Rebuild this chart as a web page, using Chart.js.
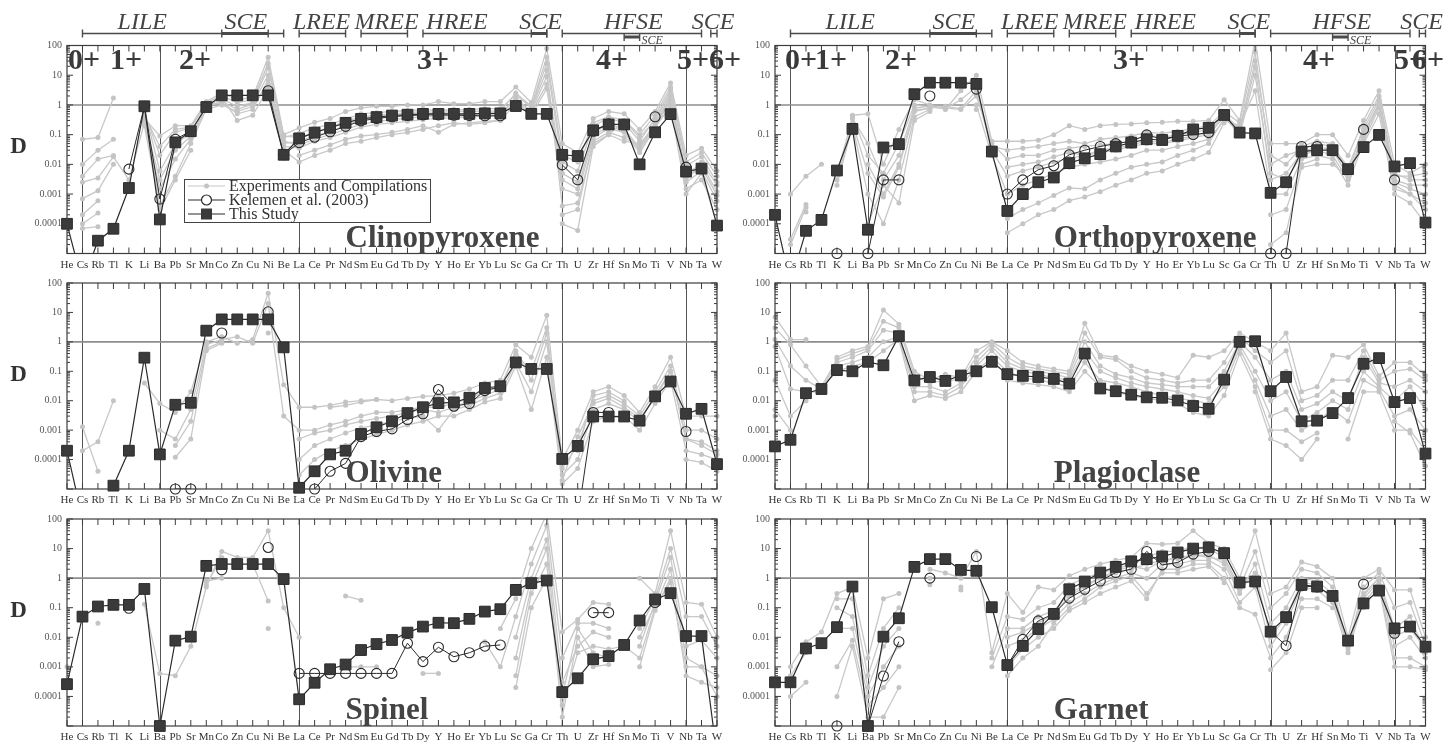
<!DOCTYPE html>
<html>
<head>
<meta charset="utf-8">
<title>Mineral/melt partition coefficients</title>
<script src="https://cdn.jsdelivr.net/npm/chart.js@4.4.1/dist/chart.umd.min.js"></script>
<style>
  html, body { margin: 0; padding: 0; background: #fff; }
  #sheet { position: relative; width: 1449px; height: 748px; overflow: hidden; }
  #sheet canvas { position: absolute; }
</style>
</head>
<body>
<div id="sheet"></div>
<script>
const _ = null;
const SERIF = "'Liberation Serif', 'Times New Roman', serif";

const elements = ['He','Cs','Rb','Tl','K','Li','Ba','Pb','Sr','Mn','Co','Zn','Cu','Ni','Be',
  'La','Ce','Pr','Nd','Sm','Eu','Gd','Tb','Dy','Y','Ho','Er','Yb','Lu',
  'Sc','Ga','Cr','Th','U','Zr','Hf','Sn','Mo','Ti','V','Nb','Ta','W'];
const yTickValues = [100, 10, 1, 0.1, 0.01, 0.001, 0.0001, 0.00001];
const yTickLabels = ['100', '10', '1', '0.1', '0.01', '0.001', '0.0001', ''];
const dividers = ['Cs', 'Ba', 'La', 'Th', 'Nb'];

// ---- Clinopyroxene ----
const cpxStudy = [
  1e-4, 1e-6, 2.7e-5, 6.8e-5, 0.0016, 0.9, 1.4e-4, 0.055, 0.13, 0.85, 2.1, 2.1, 2.1, 2.1, 0.021,
  0.075, 0.117, 0.17, 0.25, 0.34, 0.39, 0.44, 0.47, 0.5, 0.5, 0.5, 0.5, 0.52, 0.52,
  0.92, 0.5, 0.5, 0.021, 0.019, 0.14, 0.22, 0.22, 0.01, 0.12, 0.49, 0.0057, 0.0072, 8.7e-5];
const cpxKelemen = [
  _, _, _, _, 0.0069, 0.9, 6.8e-4, 0.07, 0.13, _, _, _, _, 3.0, 0.021,
  0.054, 0.082, 0.125, 0.19, 0.29, 0.35, 0.4, 0.44, 0.46, 0.46, 0.45, 0.44, 0.43, 0.43,
  _, _, _, 0.0096, 0.003, 0.13, 0.23, _, _, 0.4, _, 0.0081, _, _];
const cpxExp = [
  [_, 0.07, 0.08, 1.7, _, 0.35, 0.09, 0.2, 0.2, 1.3, 2.5, 1.5, 1.8, 40, 0.1,
   0.17, 0.26, 0.35, 0.6, 0.8, 0.9, 0.9, 1, 1, 1.3, 1.1, 1.1, 1.3, 1.3,
   4, 1.2, 80, 0.05, 0.025, 0.35, 0.6, 0.5, 0.15, 0.6, 5.5, 0.02, 0.035, 0.006],
  [_, 0.01, 0.03, 0.07, _, 0.55, 0.02, 0.12, 0.17, 1.1, 1.6, 0.9, 1.2, 18, 0.08,
   0.11, 0.17, 0.22, 0.33, 0.5, 0.55, 0.6, 0.65, 0.7, 0.65, 0.7, 0.7, 0.75, 0.75,
   2.2, 0.8, 25, 0.012, 0.006, 0.2, 0.35, 0.25, 0.06, 0.35, 3.2, 0.009, 0.018, 0.0025],
  [_, 0.004, 0.015, 0.02, _, 0.7, 0.006, 0.05, 0.11, 0.95, 1.2, 0.5, 0.7, 7, 0.05,
   0.06, 0.09, 0.13, 0.2, 0.32, 0.37, 0.42, 0.46, 0.48, 0.5, 0.48, 0.48, 0.5, 0.5,
   1.6, 0.6, 9, 0.005, 0.0025, 0.12, 0.22, 0.16, 0.035, 0.22, 2.2, 0.005, 0.01, 0.0012],
  [_, 0.0025, 0.0035, 0.018, 0.003, 0.25, 0.0015, 0.015, 0.07, 0.8, 1.8, 0.3, 0.45, 3.5, 0.04,
   0.035, 0.06, 0.08, 0.12, 0.18, 0.22, 0.25, 0.28, 0.32, 0.36, 0.36, 0.4, 0.42, 0.42,
   1.3, 0.45, 3.5, 0.0015, 0.001, 0.08, 0.16, 0.12, 0.025, 0.16, 1.6, 0.0025, 0.006, 6e-4],
  [_, 7e-4, 0.0013, 0.01, _, 0.2, 4e-4, 0.004, 0.05, 0.7, 1, 0.6, 0.9, 5, 0.03,
   0.012, 0.02, 0.03, 0.05, 0.06, 0.08, 0.1, 0.12, 0.15, 0.2, 0.25, 0.22, 0.25, 0.3,
   1.1, 0.7, 15, 4e-4, 5e-4, 0.05, 0.1, 0.3, 0.08, 0.3, 2.5, 0.0015, 0.003, 3e-4],
  [_, 2e-4, 6e-4, _, _, 0.9, 3e-4, 0.003, 0.03, _, _, _, _, _, _,
   0.02, 0.03, 0.045, 0.07, 0.09, 0.1, 0.12, 0.15, 0.2, 0.12, 0.22, 0.25, 0.28, 0.3,
   _, _, _, 2e-4, 3e-4, 0.06, 0.12, 0.08, 0.04, 0.25, 1.2, 0.003, 0.012, 0.002],
  [_, 1e-4, 2.3e-4, _, _, _, _, _, _, _, _, _, _, _, _,
   _, _, _, _, _, _, _, _, _, _, _, _, _, _,
   _, _, _, 1e-4, 6e-5, 0.04, 0.1, 0.06, 0.05, 0.18, 0.9, 0.001, 0.005, 1e-4],
  [_, 7e-5, 8e-5, _, _, _, _, _, _, _, _, _, _, _, _,
   _, _, _, _, _, _, _, _, _, _, _, _, _, _,
   _, _, _, _, _, _, _, _, _, _, _, _, _, _],
  [_, _, _, _, _, 0.45, 0.04, 0.15, 0.18, 1.2, 2, 1.2, 1.5, 25, 0.09,
   0.08, 0.12, 0.18, 0.28, 0.4, 0.45, 0.5, 0.55, 0.6, 0.55, 0.6, 0.6, 0.62, 0.62,
   2.5, 0.9, 40, 0.02, 0.012, 0.25, 0.4, 0.3, 0.1, 0.45, 4, 0.012, 0.025, 0.004],
  [_, _, _, _, _, 0.3, 0.003, 0.03, 0.09, 0.9, 1.3, 0.7, 1.1, 10, 0.06,
   0.045, 0.07, 0.1, 0.15, 0.22, 0.28, 0.32, 0.36, 0.4, 0.42, 0.42, 0.44, 0.46, 0.46,
   1.8, 0.55, 5, 0.003, 0.0015, 0.1, 0.18, 0.14, 0.03, 0.19, 1.9, 0.0035, 0.008, 9e-4]
];

// ---- Orthopyroxene ----
const opxStudy = [
  2e-4, 1e-6, 5.8e-5, 1.35e-4, 0.0062, 0.156, 6.3e-5, 0.037, 0.048, 2.3, 5.6, 5.6, 5.6, 5.1, 0.027,
  2.7e-4, 0.001, 0.0025, 0.0036, 0.011, 0.016, 0.022, 0.04, 0.054, 0.07, 0.066, 0.091, 0.15, 0.17,
  0.46, 0.117, 0.11, 0.0011, 0.0025, 0.027, 0.03, 0.03, 0.0069, 0.038, 0.098, 0.0085, 0.011, 1.1e-4];
const opxKelemen = [
  _, _, _, _, 1e-5, _, 1e-5, 0.003, 0.003, _, 2.0, _, _, 3.4, _,
  0.001, 0.003, 0.0066, 0.009, 0.021, 0.03, 0.04, 0.05, 0.06, 0.098, 0.07, 0.09, 0.1, 0.117,
  _, _, _, 1e-5, 1e-5, 0.04, 0.04, _, _, 0.15, _, 0.003, _, _];
const opxExp = [
  [_, 0.001, 0.004, 0.01, _, 0.45, 0.5, 0.01, 0.15, 1.5, 1, 0.7, 3, 10, 0.06,
   0.06, 0.06, 0.065, 0.1, 0.2, 0.15, 0.2, 0.22, 0.23, 0.25, 0.26, 0.28, 0.28, 0.3,
   1.5, 0.3, 150, 0.05, 0.05, 0.05, 0.1, 0.1, 0.02, 0.3, 3, 0.01, 0.005, 0.01],
  [_, 3e-5, 4.5e-4, _, 0.005, 0.35, 0.05, 0.003, 0.02, 0.8, 0.9, 0.8, 0.7, 2, 0.05,
   0.015, 0.02, 0.02, 0.03, 0.035, 0.04, 0.045, 0.05, 0.06, 0.1, 0.08, 0.1, 0.12, 0.15,
   0.5, 0.15, 30, 0.02, 0.01, 0.04, 0.06, 0.05, 0.005, 0.2, 2, 0.005, 0.003, 0.003],
  [_, 2e-5, 3.5e-4, _, 0.003, 0.25, 0.005, 8e-4, 0.008, 0.6, 0.8, 0.9, 0.75, 3, 0.03,
   0.004, 0.006, 0.008, 0.012, 0.016, 0.02, 0.025, 0.03, 0.04, 0.05, 0.05, 0.06, 0.08, 0.1,
   0.4, 0.1, 10, 0.005, 0.003, 0.02, 0.03, 0.02, 0.003, 0.1, 1.2, 0.003, 0.002, 0.002],
  [_, _, 2.5e-4, _, 0.002, 0.2, 0.001, 1e-4, 0.003, 0.4, 0.7, _, _, 1, 0.02,
   0.001, 0.002, 0.003, 0.005, 0.008, 0.01, 0.012, 0.015, 0.02, 0.03, 0.03, 0.04, 0.05, 0.07,
   0.3, 0.2, 3, 0.001, 0.001, 0.015, 0.02, 0.015, 0.002, 0.06, 0.8, 0.002, 0.001, 5e-4],
  [_, _, _, _, _, _, 1e-4, 0.002, 5e-4, 0.3, 0.6, _, _, 0.7, _,
   1.5e-4, 3e-4, 5e-4, 9e-4, 0.0016, 0.0015, 0.003, 0.005, 0.008, 0.01, 0.012, 0.02, 0.03, 0.05,
   0.35, _, _, 2e-4, 3e-4, 0.01, 0.015, _, _, 0.05, 0.5, 0.001, 5e-4, 1e-4],
  [_, _, _, _, _, _, _, _, _, _, _, _, _, _, _,
   5e-5, 1e-4, 2e-4, 3e-4, 6e-4, 8e-4, 0.0012, 0.002, 0.003, 0.005, 0.006, 0.01, 0.015, 0.025,
   0.25, _, _, 2e-5, 5e-5, 0.008, 0.01, 0.01, 0.004, 0.08, 1, 0.0015, 0.001, 3e-4],
  [_, _, _, _, _, 0.4, 0.02, 0.005, 0.05, 1, 0.85, 0.75, 1.5, 4, 0.04,
   0.03, 0.035, 0.04, 0.05, 0.06, 0.05, 0.07, 0.08, 0.09, 0.12, 0.11, 0.13, 0.16, 0.2,
   0.6, 0.25, 60, 0.01, 0.02, 0.03, 0.05, 0.04, 0.008, 0.15, 1.5, 0.004, 0.004, 0.005],
  [_, _, _, _, _, _, 0.01, 0.001, 0.01, 0.7, 0.75, _, _, _, _,
   0.008, 0.01, 0.012, 0.018, 0.025, 0.02, 0.03, 0.035, 0.045, 0.06, 0.055, 0.07, 0.09, 0.12,
   0.45, 0.12, 20, 0.003, 0.005, 0.025, 0.04, 0.03, 0.004, 0.12, 1, 0.0025, 0.0015, 0.001]
];

// ---- Olivine ----
const olStudy = [
  2e-4, 1e-6, 1e-6, 1.3e-5, 2e-4, 0.29, 1.5e-4, 0.0073, 0.0085, 2.4, 5.8, 5.8, 5.8, 5.8, 0.65,
  1.1e-5, 4e-5, 1.5e-4, 2e-4, 7.4e-4, 0.00125, 0.002, 0.0038, 0.006, 0.0083, 0.0088, 0.0126, 0.027, 0.031,
  0.2, 0.12, 0.12, 1.05e-4, 2.9e-4, 0.0029, 0.0029, 0.0029, 0.0021, 0.014, 0.045, 0.0036, 0.0053, 7e-5];
const olKelemen = [
  _, _, _, _, _, _, _, 1e-5, 1e-5, _, 2.0, _, _, 10.5, _,
  _, 1e-5, 4e-5, 7.4e-5, 6e-4, 9e-4, 0.0011, 0.0023, 0.0036, 0.024, 0.0065, 0.008, 0.022, 0.03,
  _, _, _, _, 1e-6, 0.004, 0.004, _, _, _, _, 9e-4, _, _];
const olExp = [
  [_, 0.0013, 4e-5, _, _, 0.04, 0.008, 0.004, 0.02, 1, 1.5, 0.9, 1.2, 45, 0.035,
   0.006, 0.006, 0.007, 0.009, 0.01, 0.011, 0.01, 0.012, 0.014, 0.015, 0.018, 0.025, 0.04, 0.05,
   0.8, 0.3, 8, 1e-4, 0.001, 0.02, 0.03, 0.015, 0.004, 0.03, 0.3, 0.003, 0.003, 0.003],
  [_, 2e-4, 4e-4, 0.01, _, _, 0.001, 5e-4, 0.005, 0.8, 1.2, 1.5, 0.9, 20, 0.003,
   0.001, 0.001, 0.0015, 0.002, 0.003, 0.004, 0.004, 0.005, 0.006, 0.006, 0.008, 0.012, 0.02, 0.03,
   0.4, 0.1, 3, 5e-5, 3e-4, 0.01, 0.015, 0.008, 0.003, 0.02, 0.15, 0.001, 0.001, 5e-4],
  [_, _, _, _, _, _, _, 3e-4, 0.002, 0.6, 1, _, _, 5, _,
   1e-4, 3e-4, 5e-4, 8e-4, 0.0012, 0.0015, 0.002, 0.0025, 0.003, 0.001, 0.005, 0.007, 0.012, 0.018,
   0.2, 0.02, 1, 3e-5, 1e-4, 0.005, 0.008, 0.005, 0.002, 0.015, 0.1, 5e-4, 4e-4, 2e-4],
  [_, _, _, _, _, _, _, 1.2e-4, 5e-4, 0.5, 0.9, _, _, 2, _,
   3e-5, 1e-4, 2e-4, 3e-4, 5e-4, 7e-4, 0.001, 0.0015, 0.002, 0.003, 0.003, 0.005, 0.009, 0.012,
   0.15, 0.005, 0.3, 1.5e-5, 5e-5, 0.002, 0.003, 0.003, 0.001, 0.008, 0.05, 2e-4, 1.5e-4, 1e-4],
  [_, _, _, _, _, _, _, _, _, _, _, _, _, _, _,
   _, _, 0.006, 0.007, 0.009, 0.011, _, _, _, _, _, _, _, _,
   _, _, _, _, 2e-4, 0.015, 0.02, 0.01, _, _, _, 1e-4, 8e-5, 4e-5],
  [_, _, _, _, _, _, _, _, _, _, _, _, _, _, _,
   5e-4, 8e-4, 0.001, 0.0015, 0.002, 0.0025, 0.003, 0.004, 0.005, 0.004, 0.006, 0.01, 0.015, 0.025,
   0.5, 0.05, 2, 2e-5, 6e-4, 0.008, 0.012, 0.006, 0.0025, 0.012, 0.1, 5e-4, 3e-4, 1.5e-4]
];

// ---- Plagioclase ----
const plStudy = [
  2.8e-4, 4.7e-4, 0.018, 0.025, 0.11, 0.1, 0.21, 0.16, 1.56, 0.049, 0.064, 0.047, 0.072, 0.1, 0.21,
  0.08, 0.07, 0.064, 0.055, 0.038, 0.4, 0.026, 0.021, 0.016, 0.013, 0.0126, 0.0102, 0.0066, 0.0053,
  0.052, 1.0, 1.05, 0.021, 0.064, 0.002, 0.0021, 0.0038, 0.0123, 0.18, 0.28, 0.009, 0.0123, 1.6e-4];
const plExp = [
  [7, 1.2, 1.2, _, 0.3, 0.5, 0.7, 12, 4, 0.1, 0.05, 0.08, 0.06, 0.5, 1,
   0.5, 0.2, 0.15, 0.12, 0.1, 4.3, 0.35, 0.3, 0.15, 0.1, 0.08, 0.06, 0.35, 0.3,
   0.5, 2, 1, 0.5, 2, 0.02, 0.03, 0.35, 0.3, 0.8, 0.07, 0.2, 0.2, 0.07],
  [3, 0.8, 0.15, 0.03, 0.25, 0.4, 0.6, 5, 3, 0.07, 0.04, 0.05, 0.05, 0.3, 0.9,
   0.3, 0.15, 0.12, 0.1, 0.08, 2, 0.3, 0.25, 0.1, 0.06, 0.05, 0.04, 0.05, 0.05,
   0.2, 1.5, 0.5, 0.2, 0.5, 0.01, 0.015, 0.05, 0.05, 0.5, 0.05, 0.1, 0.12, 0.05],
  [1.2, 0.15, 0.05, 0.025, 0.2, 0.3, 0.5, 2.5, 2, 0.03, 0.03, 0.02, 0.04, 0.2, 0.7,
   0.2, 0.12, 0.1, 0.08, 0.06, 1, 0.15, 0.08, 0.06, 0.04, 0.035, 0.03, 0.03, 0.03,
   0.1, 1, 0.3, 0.05, 0.1, 0.005, 0.008, 0.02, 0.01, 0.3, 0.04, 0.03, 0.05, 0.02],
  [0.7, 0.025, 0.02, 0.02, 0.15, 0.2, 0.3, 1, 1.5, 0.02, 0.02, 0.015, 0.03, 0.15, 0.5,
   0.15, 0.1, 0.08, 0.06, 0.05, 0.5, 0.1, 0.06, 0.04, 0.03, 0.025, 0.02, 0.015, 0.012,
   0.05, 0.8, 0.1, 0.01, 0.02, 0.002, 0.004, 0.01, 0.005, 0.1, 0.03, 0.01, 0.03, 0.005],
  [0.05, 0.003, 0.01, _, 0.1, 0.15, 0.2, 0.5, 1.2, 0.01, 0.015, 0.012, 0.02, 0.1, 0.3,
   0.1, 0.06, 0.05, 0.04, 0.03, 0.2, 0.05, 0.04, 0.03, 0.02, 0.015, 0.012, 0.01, 0.008,
   0.03, 0.6, 0.05, 0.003, 0.005, 0.001, 0.002, 0.005, 0.002, 0.05, 0.025, 0.003, 0.005, 0.001],
  [0.005, 0.001, _, _, _, _, _, _, _, _, _, _, _, _, _,
   0.05, 0.04, 0.035, 0.03, 0.02, 0.1, 0.03, 0.02, 0.015, 0.012, 0.01, 0.008, 0.004, 0.003,
   0.015, 0.4, 0.03, 0.001, 0.001, 4e-4, 8e-4, _, 5e-4, 0.02, 0.02, 0.001, 0.001, 2e-4],
  [0.003, _, _, _, _, _, _, _, _, _, _, _, _, _, _,
   _, _, _, _, _, _, _, _, _, _, _, _, _, _,
   _, _, 0.02, 5e-4, 3e-4, 1e-4, 5e-4, _, _, _, _, 0.002, 8e-4, 6e-5]
];

// ---- Spinel ----
const spStudy = [
  2.6e-4, 0.05, 0.11, 0.125, 0.125, 0.43, 1e-5, 0.0077, 0.0105, 2.6, 3.0, 3.0, 3.0, 3.0, 0.93,
  8e-5, 2.9e-4, 8.3e-4, 0.0012, 0.0037, 0.0059, 0.0081, 0.0144, 0.023, 0.031, 0.03, 0.042, 0.074, 0.089,
  0.4, 0.68, 0.83, 1.4e-4, 4.1e-4, 0.0018, 0.0023, 0.0055, 0.037, 0.19, 0.31, 0.011, 0.011, 1e-6];
const spKelemen = [
  _, _, _, _, 0.096, _, _, _, _, _, 1.9, _, _, 10.9, _,
  6e-4, 6e-4, 6e-4, 6e-4, 6e-4, 6e-4, 6e-4, 0.0063, 0.0015, 0.0046, 0.0022, 0.003, 0.005, 0.0055,
  _, _, _, _, _, 0.068, 0.068, _, _, 0.15, _, _, _, _];
const spExp = [
  [0.001, _, 0.03, _, _, 0.13, 6e-4, 5e-4, 0.005, 0.5, 8, 5, 5, 40, 0.1,
   0.01, _, _, 0.25, 0.18, _, _, _, _, _, _, _, _, 0.02,
   0.2, 10, 150, 0.015, 0.04, 0.15, 0.13, _, 1, 0.3, 40, 0.15, 0.13, 0.01],
  [_, _, _, _, _, _, _, _, _, 0.6, 5, _, 3, 0.17, _,
   _, _, _, 0.001, 0.001, 0.001, _, _, 6e-4, 6e-4, _, _, 0.007, 0.001,
   0.05, 3, 60, 0.002, 0.03, 0.03, 0.02, _, 0.02, 0.2, 10, 0.05, 0.05, 0.005],
  [_, _, _, _, _, _, _, _, _, 0.8, 1, _, _, 0.02, _,
   _, _, _, _, _, _, _, _, _, _, _, _, _, _,
   0.01, 1, 20, 3e-4, 0.005, 0.015, 0.01, _, 0.005, 0.15, 5, 0.005, 0.008, 0.002],
  [_, _, _, _, _, _, _, _, _, _, _, _, _, _, _,
   _, _, _, _, _, _, _, _, _, _, _, _, _, _,
   0.002, 0.5, 10, 5e-5, 0.003, 0.005, 0.004, 0.005, 0.002, 0.1, 2, 0.002, 0.001, 5e-4],
  [_, _, _, _, _, _, _, _, _, _, _, _, _, _, _,
   _, _, _, _, _, _, _, _, _, _, _, _, _, _,
   5e-4, 0.3, 3, 2e-5, 0.01, 0.001, 0.0012, _, 0.001, 0.08, 1, 5e-4, 3e-4, 2e-4],
  [_, _, _, _, _, _, _, _, _, _, _, _, _, _, _,
   _, _, _, _, _, _, _, _, _, _, _, _, _, _,
   2e-4, 0.1, 1, 1e-4, 0.02, 0.003, 0.002, _, 0.01, 0.12, 0.7, 0.001, 0.001, 1e-4]
];

// ---- Garnet ----
const gtStudy = [
  3e-4, 3e-4, 0.0042, 0.0063, 0.022, 0.52, 1e-5, 0.0105, 0.044, 2.4, 4.4, 4.4, 1.9, 1.77, 0.104,
  0.00115, 0.0051, 0.019, 0.062, 0.42, 0.77, 1.55, 2.4, 3.7, 4.4, 5.4, 7.4, 10, 11,
  7, 0.71, 0.77, 0.0155, 0.048, 0.59, 0.52, 0.25, 0.0077, 0.14, 0.38, 0.02, 0.023, 0.0048];
const gtKelemen = [
  _, _, _, _, 1e-5, _, 1e-5, 4.9e-4, 0.0071, _, 1.0, _, _, 5.4, _,
  0.0011, 0.0085, 0.036, 0.062, 0.21, 0.42, 0.8, 1.55, 2.0, 8.0, 2.8, 3.4, 6.5, 8,
  _, _, _, 0.0155, 0.0052, 0.55, 0.5, _, _, 0.63, _, 0.0137, _, _];
const gtExp = [
  [_, 0.001, 0.007, 0.015, 0.3, 0.5, 0.002, 0.2, 0.3, _, 2, 1.5, 1, 8, 0.003,
   0.3, 0.07, 0.5, 0.4, 1.2, 2, 3, 4, 5, 15, 14, 15, 40, 15,
   10, 1, 40, 0.3, 0.5, 3.5, 2.5, 1, 0.01, 1, 2, 0.4, 0.4, 0.01],
  [_, 5e-4, 0.003, _, 0.2, 0.2, 5e-4, 0.02, 0.1, _, 1, _, 0.5, _, 0.002,
   0.05, 0.04, 0.1, 0.15, 0.6, 1, 1.5, 2, 3, 5, 8, 8, 12, 10,
   5, 0.5, 8, 0.1, 0.3, 2, 1.5, 0.5, 0.005, 0.5, 1.5, 0.1, 0.15, 0.005],
  [_, 1e-4, 3e-4, _, 0.1, 0.05, 2e-4, 0.005, 0.02, _, 0.6, _, 0.4, _, 0.001,
   0.02, 0.02, 0.05, 0.08, 0.3, 0.6, 1, 1.5, 2, 3, 4, 5, 6, 6,
   3, 0.3, 3, 0.03, 0.1, 1, 0.8, 0.3, 0.004, 0.3, 1, 0.02, 0.05, 0.003],
  [_, _, _, _, 0.02, 0.02, 1e-4, 0.001, 0.005, _, _, _, _, _, _,
   0.005, 0.008, 0.02, 0.04, 0.15, 0.3, 0.6, 1, 1.5, 1, 3, 3, 4, 4,
   2, 0.15, 0.5, 0.005, 0.03, 0.5, 0.4, 0.15, 0.003, 0.2, 0.8, 0.005, 0.01, 0.002],
  [_, _, _, _, 0.001, 0.008, 5e-5, 2e-4, 0.001, _, _, _, _, _, _,
   0.001, 0.004, 0.01, 0.02, 0.08, 0.15, 0.3, 0.5, 0.8, 0.2, 2, 2, 3, 3,
   1, 0.1, 0.06, 0.002, 0.01, 0.2, 0.2, 0.1, _, 0.15, 0.6, 0.002, 0.002, 0.001],
  [_, _, _, _, 1e-4, 0.005, 2e-5, 2e-5, 2e-4, _, _, _, _, _, _,
   5e-4, 0.002, 0.005, 0.03, 0.1, 0.2, 0.5, 0.8, 1.2, 0.3, 1.5, 1.5, 2, 2.5,
   0.7, _, _, 8e-4, 0.003, 0.1, 0.1, _, _, 0.1, 0.5, 0.001, 0.001, 8e-4],
  [_, _, _, _, _, _, _, _, _, _, _, _, _, _, _,
   0.01, 0.015, 0.03, 0.06, 0.25, 0.5, 1, 1.8, 2.5, 2, 4, 4.5, 6, 5,
   4, 0.4, 1.5, 0.01, 0.05, 0.7, 0.6, 0.2, 0.005, 0.25, 1, 0.01, 0.02, 0.004]
];

// element groups drawn above the top row
const groupBars = [
  { from: 1, to: 14, label: 'LILE', at: 4.86 },
  { from: 10, to: 13, label: 'SCE', at: 11.55, heavy: true },
  { from: 15, to: 18, label: 'LREE', at: 16.45 },
  { from: 19, to: 22, label: 'MREE', at: 20.65 },
  { from: 23, to: 31, label: 'HREE', at: 25.2 },
  { from: 30, to: 31, label: 'SCE', at: 30.6, heavy: true },
  { from: 32, to: 41, label: 'HFSE', at: 36.6 },
  { from: 36, to: 37, label: 'SCE', heavy: true, minor: true },
  { from: 41.6, to: 42, label: 'SCE', at: 41.75 }
];
const chargeLabels = ['0+', '1+', '2+', '3+', '4+', '5+', '6+'];

const columns = [
  { left: 0, width: 745, padRight: 28, charges: [1, 43, 112, 350, 529, 610, 642] },
  { left: 708, width: 741, padRight: 23.5, charges: [10, 40, 110, 338, 528, 619, 637] }
];
const rows = [
  { top: 0, height: 280, padTop: 45.5, axisH: 26.5, dY: 101.5 },
  { top: 262, height: 250, padTop: 21, axisH: 23, dY: 92 },
  { top: 498, height: 250, padTop: 21, axisH: 22, dY: 92 }
];

const panels = [
  { name: 'Clinopyroxene', study: cpxStudy, kelemen: cpxKelemen, exp: cpxExp, col: 0, row: 0, legend: true },
  { name: 'Orthopyroxene', study: opxStudy, kelemen: opxKelemen, exp: opxExp, col: 1, row: 0 },
  { name: 'Olivine', study: olStudy, kelemen: olKelemen, exp: olExp, col: 0, row: 1 },
  { name: 'Plagioclase', study: plStudy, kelemen: null, exp: plExp, col: 1, row: 1 },
  { name: 'Spinel', study: spStudy, kelemen: spKelemen, exp: spExp, col: 0, row: 2 },
  { name: 'Garnet', study: gtStudy, kelemen: gtKelemen, exp: gtExp, col: 1, row: 2 }
];

const INK = '#2b2b2b';
const GREY = '#c8c8c8';

function seg(ctx, x1, y1, x2, y2) {
  ctx.beginPath();
  ctx.moveTo(x1, y1);
  ctx.lineTo(x2, y2);
  ctx.stroke();
}

// markers are drawn unclipped so symbols sitting on the frame stay whole
function onScale(values) {
  return values.map(v => (v !== null && v >= 1e-5 && v <= 100) ? v : null);
}

function makeDecor(p, col, row) {
  return {
    id: 'panelDecor',
    beforeDatasetsDraw(chart) {
      const { ctx, chartArea: a, scales: { x, y } } = chart;
      ctx.save();
      ctx.strokeStyle = '#555';
      ctx.lineWidth = 1;
      dividers.forEach(el => {
        const px = Math.round(x.getPixelForValue(elements.indexOf(el))) + 0.5;
        seg(ctx, px, a.top, px, a.bottom);
      });
      ctx.strokeStyle = '#8d8d8d';
      ctx.lineWidth = 1.6;
      const py = y.getPixelForValue(1);
      seg(ctx, a.left, py, a.right, py);
      ctx.restore();
    },
    afterDraw(chart) {
      const { ctx, chartArea: a, scales: { x, y } } = chart;
      ctx.save();

      // frame with inward ticks
      ctx.strokeStyle = '#3c3c3c';
      ctx.lineWidth = 1.2;
      ctx.strokeRect(a.left, a.top, a.right - a.left, a.bottom - a.top);
      ctx.lineWidth = 1;
      for (let i = 0; i < elements.length; i++) {
        const px = x.getPixelForValue(i);
        seg(ctx, px, a.bottom, px, a.bottom - 6);
        seg(ctx, px, a.top, px, a.top + 6);
      }
      for (let e = -5; e <= 2; e++) {
        const py = y.getPixelForValue(Math.pow(10, e));
        seg(ctx, a.left, py, a.left + 6, py);
        seg(ctx, a.right, py, a.right - 6, py);
        if (e === 2) continue;
        for (let m = 2; m <= 9; m++) {
          const q = y.getPixelForValue(m * Math.pow(10, e));
          seg(ctx, a.left, q, a.left + 3, q);
          seg(ctx, a.right, q, a.right - 3, q);
        }
      }

      // mineral name
      ctx.fillStyle = '#444';
      ctx.font = `bold 31px ${SERIF}`;
      ctx.textAlign = 'left';
      ctx.textBaseline = 'alphabetic';
      ctx.fillText(p.name, x.getPixelForValue(elements.indexOf('Nd')), a.bottom - 7);

      if (p.col === 0) {
        ctx.font = `bold 23px ${SERIF}`;
        ctx.textAlign = 'center';
        ctx.textBaseline = 'middle';
        ctx.fillStyle = '#333';
        ctx.fillText('D', 18.5, a.top + row.dY);
      }

      if (p.row === 0) {
        // valence labels
        ctx.font = `bold 30px ${SERIF}`;
        ctx.textAlign = 'left';
        ctx.textBaseline = 'alphabetic';
        ctx.fillStyle = '#3a3a3a';
        chargeLabels.forEach((t, i) => ctx.fillText(t, a.left + col.charges[i], a.top + 23));

        // group brackets
        ctx.strokeStyle = '#4a4a4a';
        ctx.fillStyle = '#444';
        groupBars.forEach(g => {
          const x1 = x.getPixelForValue(g.from), x2 = x.getPixelForValue(g.to);
          const yb = g.minor ? a.top - 8.5 : a.top - 12;
          ctx.lineWidth = g.heavy ? 3 : 1.4;
          seg(ctx, x1, yb, x2, yb);
          ctx.lineWidth = 1.4;
          seg(ctx, x1, yb - 4, x1, yb + 4);
          seg(ctx, x2, yb - 4, x2, yb + 4);
          if (g.minor) {
            ctx.font = `italic 12px ${SERIF}`;
            ctx.textAlign = 'left';
            ctx.fillText(g.label, x2 + 2, a.top - 2);
          } else {
            ctx.font = `italic 24px ${SERIF}`;
            ctx.textAlign = 'center';
            ctx.fillText(g.label, x.getPixelForValue(g.at), a.top - 16.5);
          }
        });
      }

      if (p.legend) {
        const bx = a.left + 117, by = a.top + 133.5, bw = 246, bh = 43;
        ctx.fillStyle = '#fff';
        ctx.fillRect(bx, by, bw, bh);
        ctx.strokeStyle = '#444';
        ctx.lineWidth = 1;
        ctx.strokeRect(bx + 0.5, by + 0.5, bw, bh);
        const items = [
          { text: 'Experiments and Compilations', color: GREY, style: 'dot' },
          { text: 'Kelemen et al. (2003)', color: INK, style: 'circle' },
          { text: 'This Study', color: INK, style: 'square' }
        ];
        items.forEach((it, i) => {
          const ly = by + 7 + i * 14;
          const mx = bx + 22.5;
          ctx.strokeStyle = it.color;
          ctx.lineWidth = 1.2;
          seg(ctx, bx + 4, ly, bx + 41, ly);
          if (it.style === 'dot') {
            ctx.fillStyle = '#c4c4c4';
            ctx.beginPath(); ctx.arc(mx, ly, 2.5, 0, Math.PI * 2); ctx.fill();
          } else if (it.style === 'circle') {
            ctx.fillStyle = '#fff';
            ctx.beginPath(); ctx.arc(mx, ly, 5, 0, Math.PI * 2); ctx.fill(); ctx.stroke();
          } else {
            ctx.fillStyle = '#3a3a3a';
            ctx.fillRect(mx - 5.5, ly - 5.5, 11, 11);
          }
          ctx.fillStyle = '#333';
          ctx.font = `16px ${SERIF}`;
          ctx.textAlign = 'left';
          ctx.textBaseline = 'alphabetic';
          ctx.fillText(it.text, bx + 45, ly + 5);
        });
      }
      ctx.restore();
    }
  };
}

const sheet = document.getElementById('sheet');

panels.forEach(p => {
  const col = columns[p.col], row = rows[p.row];
  const canvas = document.createElement('canvas');
  canvas.width = col.width;
  canvas.height = row.height;
  canvas.style.left = col.left + 'px';
  canvas.style.top = row.top + 'px';
  sheet.appendChild(canvas);

  const datasets = [
    { data: onScale(p.study), showLine: false, pointStyle: 'rect', pointRadius: 7.6,
      pointBackgroundColor: '#3a3a3a', pointBorderColor: INK, pointBorderWidth: 1, clip: false, order: 1 },
    { data: p.study, borderColor: INK, borderWidth: 1.2, pointRadius: 0, order: 2 }
  ];
  if (p.kelemen) {
    datasets.push(
      { data: onScale(p.kelemen), showLine: false, pointStyle: 'circle', pointRadius: 5,
        pointBackgroundColor: 'rgba(0,0,0,0)', pointBorderColor: INK, pointBorderWidth: 1.1, clip: false, order: 3 },
      { data: p.kelemen, borderColor: INK, borderWidth: 1, pointRadius: 0, order: 4 }
    );
  }
  p.exp.forEach(s => datasets.push({
    data: s, borderColor: GREY, borderWidth: 1.3, pointRadius: 2.5,
    pointBackgroundColor: '#c4c4c4', pointBorderWidth: 0, order: 10
  }));

  new Chart(canvas, {
    type: 'line',
    data: { labels: elements, datasets },
    options: {
      responsive: false,
      animation: false,
      devicePixelRatio: 1,
      events: [],
      spanGaps: false,
      layout: { padding: { top: row.padTop, right: col.padRight, bottom: 0, left: 0 } },
      plugins: { legend: { display: false }, tooltip: { enabled: false } },
      scales: {
        x: {
          type: 'category',
          offset: false,
          grid: { display: false, drawTicks: false },
          border: { display: false },
          ticks: { autoSkip: false, maxRotation: 0, minRotation: 0, padding: 5, color: '#333',
                   font: { family: SERIF, size: 11 } },
          afterFit: s => { s.height = row.axisH; }
        },
        y: {
          type: 'logarithmic',
          min: 1e-5,
          max: 100,
          grid: { display: false, drawTicks: false },
          border: { display: false },
          ticks: { padding: 5, color: '#555', font: { family: SERIF, size: 10 },
                   callback: (v, i) => yTickLabels[i] },
          afterBuildTicks: s => { s.ticks = yTickValues.map(v => ({ value: v })); },
          afterFit: s => { s.width = 67; }
        }
      }
    },
    plugins: [makeDecor(p, col, row)]
  });
});
</script>
</body>
</html>
